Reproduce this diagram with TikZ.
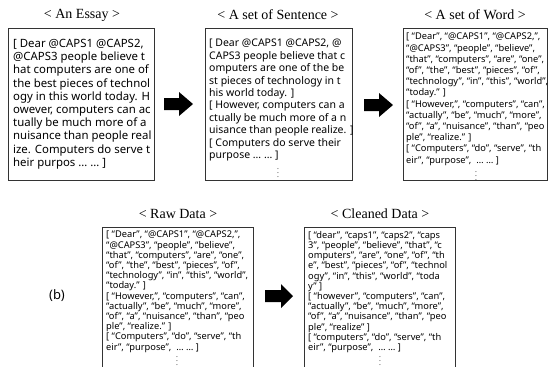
\documentclass[tikz,border=0pt]{standalone}
\usepackage{fontspec}
\setmainfont{Liberation Serif}
\newfontfamily\boxfont{Noto Sans}
\begin{document}
\begin{tikzpicture}[x=1pt,y=-1pt,
  frame/.style={draw=black!80, line width=0.9pt},
  title/.style={font=\fontsize{14}{16}\selectfont, inner sep=0pt},
  bigtxt/.style={anchor=north west, inner sep=0pt, align=left, font=\boxfont\fontsize{11.4}{13.2}\selectfont},
  midtxt/.style={anchor=north west, inner sep=0pt, align=left, font=\boxfont\fontsize{10.5}{12.4}\selectfont},
  smalltxt/.style={anchor=north west, inner sep=0pt, align=left, font=\boxfont\fontsize{9.3}{11.2}\selectfont},
  lowtxt/.style={anchor=north west, inner sep=0pt, align=left, font=\boxfont\fontsize{9.3}{10.2}\selectfont},
  dots/.style={inner sep=0pt, font=\fontsize{7.5}{8}\selectfont},
  blockarrow/.style={fill=black}
]
\useasboundingbox (0,0) rectangle (550,367);
\fill[white] (0,0) rectangle (550,367);

% titles
\node[title] (t1) at (82,15) {< An Essay >};
\node[title] (t2) at (278,15) {< A set of Sentence >};
\node[title] (t3) at (475,15) {< A set of Word >};
\node[title] (t4) at (178,214) {< Raw Data >};
\node[title] (t5) at (380,214) {< Cleaned Data >};
\node[font=\boxfont\fontsize{13}{15}\selectfont, inner sep=0pt] (b) at (57,296) {(b)};

% boxes
\draw[frame] (8,28) rectangle (154,180);
\draw[frame] (205,28) rectangle (352,180);
\draw[frame] (403,28) rectangle (547,180);
\draw[frame] (102,372) -- (102,227) -- (253,227) -- (253,372);
\draw[frame] (304,372) -- (304,227) -- (455,227) -- (455,372);

% arrows
\fill[blockarrow] (164,98) -- (179,98) -- (179,92) -- (193,104) -- (179,116) -- (179,110) -- (164,110) -- cycle;
\fill[blockarrow] (364,99) -- (379,99) -- (379,93) -- (393,105) -- (379,117) -- (379,111) -- (364,111) -- cycle;
\fill[blockarrow] (265,290) -- (281,290) -- (281,284) -- (293,296) -- (281,308) -- (281,302) -- (265,302) -- cycle;

% texts
\node[bigtxt] (e) at (13,39) {[ Dear @CAPS1 @CAPS2,\\@CAPS3 people believe t\\hat computers are one of\\the best pieces of technol\\ogy in this world today. H\\owever, computers can ac\\tually be much more of a\\nuisance than people real\\ize. Computers do serve t\\heir purpos … … ]};

\node[midtxt] (s) at (209,39) {[ Dear @CAPS1 @CAPS2, @\\CAPS3 people believe that c\\omputers are one of the be\\st pieces of technology in t\\his world today. ]\\{[} However, computers can a\\ctually be much more of a n\\uisance than people realize. ]\\{[} Computers do serve their\\purpose \textbf{… …} ]};
\node[dots] (sd) at (278,170) {$\vdots$};

\node[smalltxt] (w) at (406,33) {[ “Dear”, “@CAPS1”, “@CAPS2,”,\\“@CAPS3”, “people”, “believe”,\\“that”, “computers”, “are”, “one”,\\“of”, “the”, “best”, “pieces”, “of”,\\“technology”, “in”, “this”, “world”,\\“today.” ]\\{[} “However,”, “computers”, “can”,\\“actually”, “be”, “much”, “more”,\\“of”, “a”, “nuisance”, “than”, “peo\\ple”, “realize.” ]\\{[} “Computers”, “do”, “serve”, “th\\eir”, “purpose”, \ \textbf{… …} ]};
\node[dots] (wd) at (476,173) {$\vdots$};

\node[lowtxt] (r) at (106,231) {[ “Dear”, “@CAPS1”, “@CAPS2,”,\\“@CAPS3”, “people”, “believe”,\\“that”, “computers”, “are”, “one”,\\“of”, “the”, “best”, “pieces”, “of”,\\“technology”, “in”, “this”, “world”,\\“today.” ]\\{[} “However,”, “computers”, “can”,\\“actually”, “be”, “much”, “more”,\\“of”, “a”, “nuisance”, “than”, “peo\\ple”, “realize.” ]\\{[} “Computers”, “do”, “serve”, “th\\eir”, “purpose”, \ \textbf{… …} ]};
\node[dots] (rd) at (177,358) {$\vdots$};

\node[lowtxt] (c) at (308,231) {[ “dear”, “caps1”, “caps2”, “caps\\3”, “people”, “believe”, “that”, “c\\omputers”, “are”, “one”, “of”, “th\\e”, “best”, “pieces”, “of”, “technol\\ogy”, “in”, “this”, “world”, “toda\\y” ]\\{[} “however”, “computers”, “can”,\\“actually”, “be”, “much”, “more”,\\“of”, “a”, “nuisance”, “than”, “peo\\ple”, “realize” ]\\{[} “computers”, “do”, “serve”, “th\\eir”, “purpose”, \ \textbf{… …} ]};
\node[dots] (cd) at (380,358) {$\vdots$};
\end{tikzpicture}
\end{document}
